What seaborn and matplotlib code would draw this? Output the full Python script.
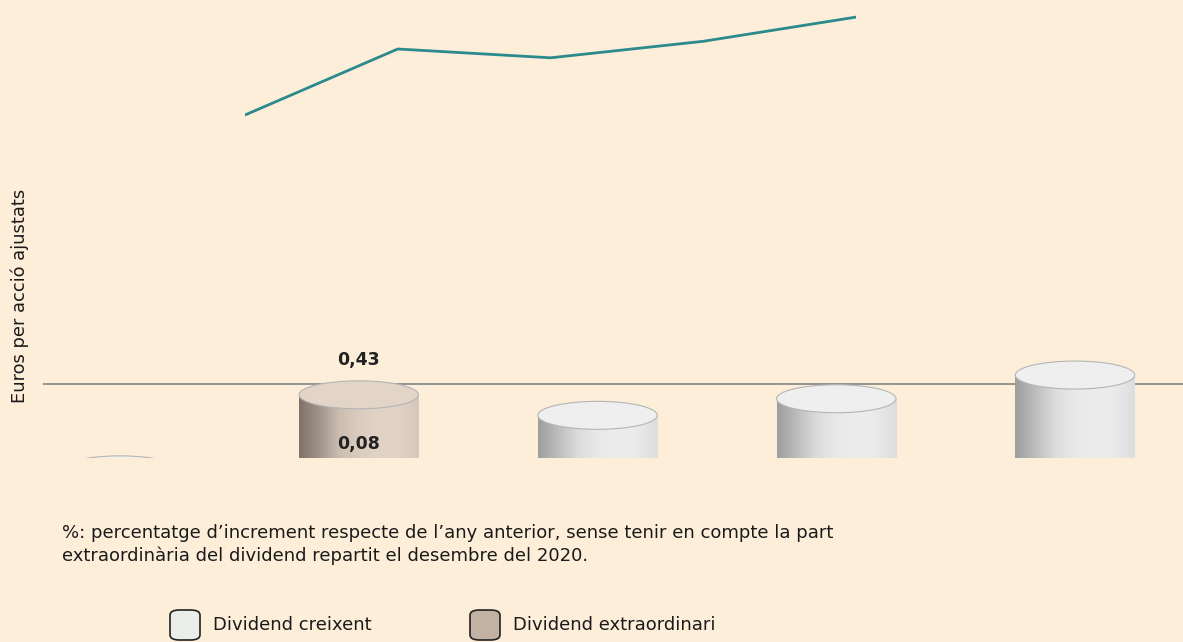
import numpy as np
import pandas as pd
import matplotlib.pyplot as plt
import seaborn as sns
from matplotlib.patches import Ellipse, FancyBboxPatch
from matplotlib.colors import LinearSegmentedColormap

# dades (la part inferior de les barres queda retallada a la imatge)
anys = ["2019", "2020", "2021", "2022", "2023"]
dividend_creixent = [0.335, 0.35, 0.404, 0.425, 0.455]
dividend_extra = [0.0, 0.08, 0.0, 0.0, 0.0]
increment_pct = [1.0, 7.0, 6.2, 7.7, 9.9]
linia_ref = 0.4437

BG = "#fdeed9"
TEAL = "#2a8a8c"
C_CREIX = "#eceeea"
C_EXTRA = "#c2b2a3"

sns.set_style("white")
plt.rcParams["font.family"] = ["DejaVu Sans"]
plt.rcParams["text.color"] = "#1a1a1a"

df = pd.DataFrame({"any": anys, "creixent": dividend_creixent, "extra": dividend_extra})
df["total"] = df["creixent"] + df["extra"]

W, H = 1183, 642
fig = plt.figure(figsize=(W / 100, H / 100), dpi=100, facecolor=BG)

# eix de les barres (cilindres)
px_per_eur = 790
y_min = 0.35
ax = fig.add_axes([43 / W, 1 - 458 / H, 1 - 43 / W, 458 / H])
ax.set_facecolor("none")
sns.barplot(data=df, x="any", y="total", width=0.5, color=C_CREIX, ax=ax,
            saturation=1, edgecolor="none", zorder=2)
ax.axhline(linia_ref, color="#8d8d8d", lw=1.3, zorder=1)

cm_light = LinearSegmentedColormap.from_list(
    "l", ["#9e9e9e", "#bdbdbd", "#dcdcdc", "#e9e9e9", "#ededed", "#eaeaea", "#dddddd"])
cm_brown = LinearSegmentedColormap.from_list(
    "b", ["#7f736a", "#a0938a", "#cbbeb1", "#dacdc0", "#e1d4c7", "#dfd2c5", "#d6c9bc"])
grad = np.linspace(0, 1, 200).reshape(1, -1)
ell_h = 28 / px_per_eur

for i, patch in enumerate(ax.patches):
    x0 = patch.get_x()
    w = patch.get_width()
    cr = df["creixent"][i]
    ex = df["extra"][i]
    tot = cr + ex
    if cr > y_min:
        im = ax.imshow(grad, cmap=cm_light, extent=(x0, x0 + w, y_min, cr),
                       aspect="auto", zorder=3)
        im.set_clip_path(patch)
    top_col = "#efefef"
    if ex > 0:
        im2 = ax.imshow(grad, cmap=cm_brown, extent=(x0, x0 + w, max(cr, y_min), tot),
                        aspect="auto", zorder=3)
        im2.set_clip_path(patch)
        top_col = "#e2d5c8"
    ax.add_patch(Ellipse((x0 + w / 2, tot), w, ell_h, facecolor=top_col,
                         edgecolor="#b5b5b5", lw=0.8, zorder=4))
    if ex > 0:
        ax.annotate(f"{tot:.2f}".replace(".", ","), xy=(x0 + w / 2, tot), xytext=(0, 25),
                    textcoords="offset points", ha="center", va="center",
                    fontsize=12.5, fontweight="bold", color="#222222", zorder=5)
        ax.annotate(f"{ex:.2f}".replace(".", ","), xy=(x0 + w / 2, cr), xytext=(0, 10),
                    textcoords="offset points", ha="center", va="center",
                    fontsize=12.5, fontweight="bold", color="#222222", zorder=5)

ax.set_xlim(-77 / 238.75, 4 + 108 / 238.75)
ax.set_ylim(y_min, y_min + 458 / px_per_eur)
ax.axis("off")

# eix de la línia d'increment
ax2 = fig.add_axes([245 / W, 1 - 130 / H, (856 - 245) / W, 130 / H])
ax2.set_facecolor("none")
sns.lineplot(x=np.arange(len(increment_pct)), y=increment_pct, color=TEAL, lw=2, ax=ax2)
ax2.set_xlim(0, 4)
ax2.set_ylim(1 - 15 / 11, 1 + 115 / 11)
ax2.axis("off")

fig.text(20 / W, 1 - 296 / H, "Euros per acció ajustats", rotation=90,
         ha="center", va="center", fontsize=12.9)

fig.text(62 / W, 1 - 533 / H,
         "%: percentatge d\u2019increment respecte de l\u2019any anterior, sense tenir en compte la part",
         ha="left", va="center", fontsize=13)
fig.text(62 / W, 1 - 556 / H,
         "extraordin\u00e0ria del dividend repartit el desembre del 2020.",
         ha="left", va="center", fontsize=13)

# llegenda
for bx, col, lab in [(170, C_CREIX, "Dividend creixent"), (470, C_EXTRA, "Dividend extraordinari")]:
    fig.patches.append(FancyBboxPatch((bx / W, 1 - 640 / H), 30 / W, 30 / H,
                                      boxstyle="round,pad=0,rounding_size=0.008",
                                      transform=fig.transFigure, facecolor=col,
                                      edgecolor="#222222", lw=1.2, figure=fig))
    fig.text((bx + 43) / W, 1 - 625 / H, lab, ha="left", va="center", fontsize=13)

fig.savefig("out.png", dpi=100, facecolor=BG)
